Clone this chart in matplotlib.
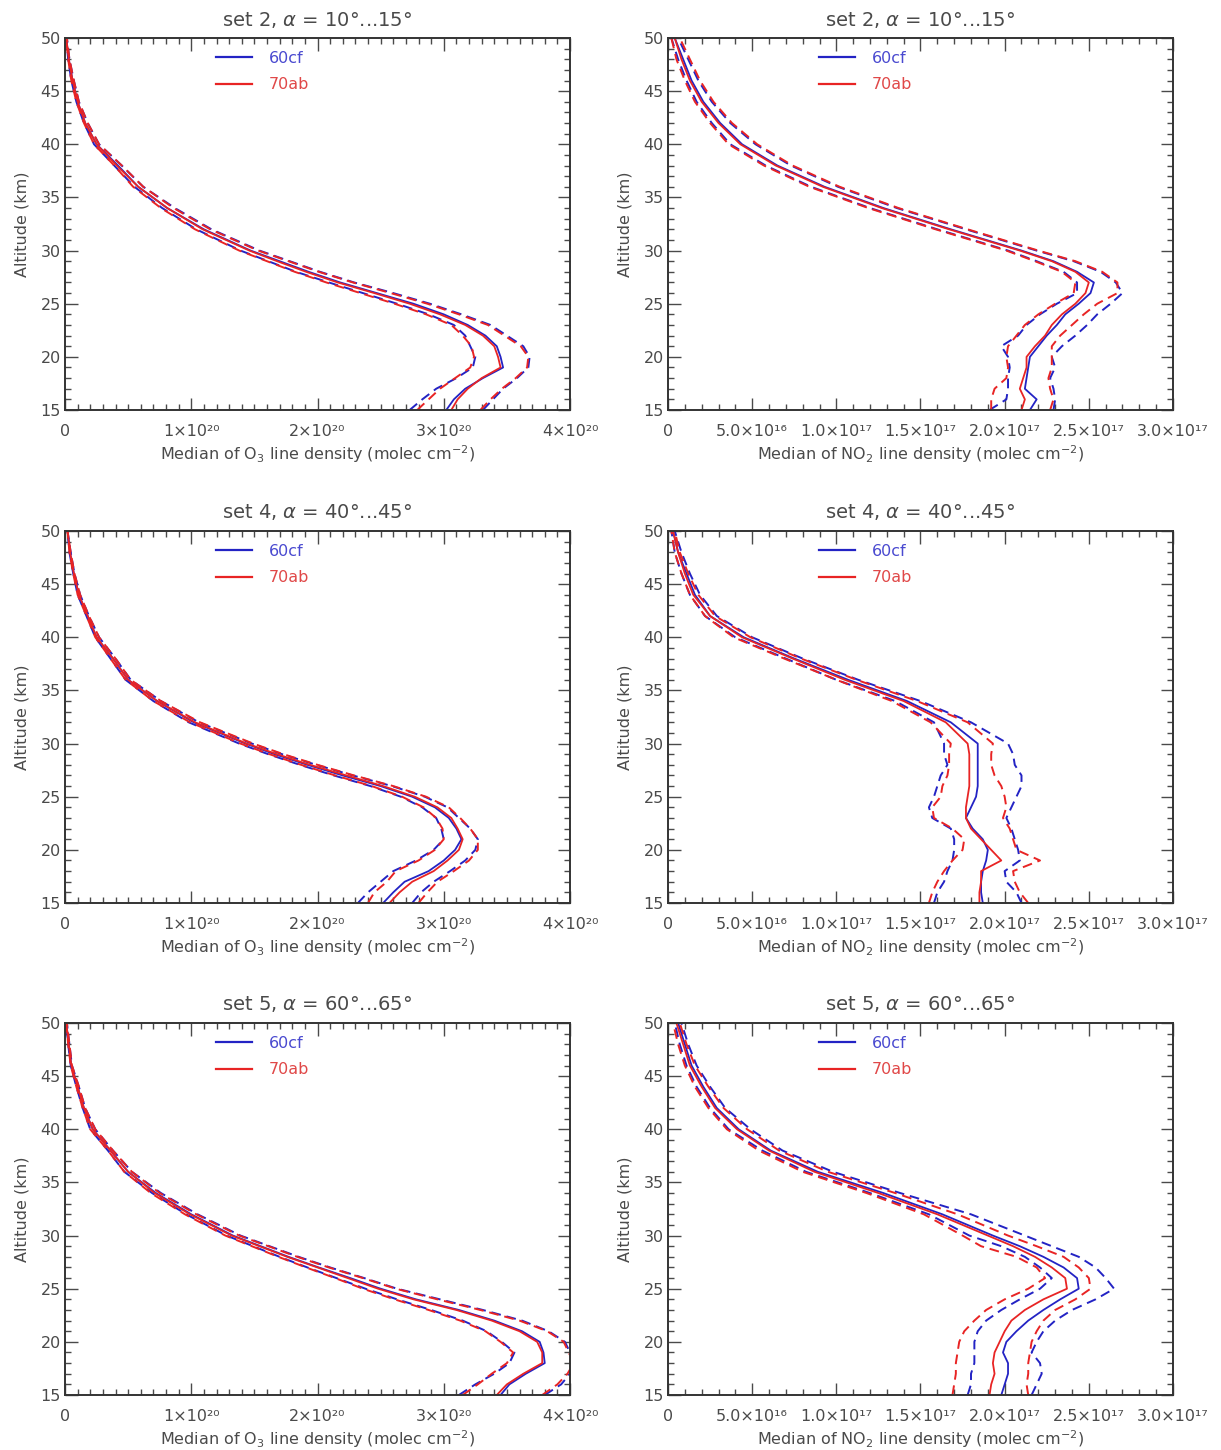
"""Median O3 and NO2 line-density profiles for three solar-angle sets,
comparing the 60cf and 70ab retrievals (solid = median, dashed = spread).
"""

import matplotlib
matplotlib.use("Agg")
import matplotlib.pyplot as plt
from matplotlib.lines import Line2D
from matplotlib.ticker import MultipleLocator

# altitude grid (km)
ALT = [15, 16, 17, 18, 19, 20, 21, 22, 23, 24, 25, 26, 27, 28, 29, 30,
       32, 34, 36, 38, 40, 42, 44, 46, 48, 50]

O3_UNIT = 1e20
NO2_UNIT = 1e17

# ---- O3, set 2 (units of 1e20) ----
O3_S2_BLUE_MED = [3.02, 3.08, 3.17, 3.31, 3.47, 3.45, 3.42, 3.33, 3.19, 3.00, 2.76, 2.47, 2.18, 1.93, 1.70, 1.47,
                  1.10, 0.81, 0.58, 0.42, 0.25, 0.16, 0.10, 0.06, 0.03, 0.01]
O3_S2_BLUE_LO = [2.73, 2.83, 2.94, 3.10, 3.23, 3.25, 3.21, 3.17, 3.08, 2.88, 2.63, 2.36, 2.09, 1.83, 1.61, 1.39,
                 1.04, 0.77, 0.55, 0.39, 0.23, 0.15, 0.09, 0.05, 0.025, 0.01]
O3_S2_BLUE_HI = [3.31, 3.39, 3.47, 3.58, 3.67, 3.68, 3.63, 3.50, 3.37, 3.14, 2.89, 2.60, 2.29, 2.02, 1.78, 1.54,
                 1.16, 0.87, 0.62, 0.45, 0.27, 0.18, 0.11, 0.07, 0.035, 0.015]
O3_S2_RED_MED = [3.06, 3.11, 3.19, 3.30, 3.45, 3.43, 3.40, 3.31, 3.17, 2.97, 2.73, 2.45, 2.16, 1.91, 1.68, 1.46,
                 1.09, 0.81, 0.58, 0.41, 0.25, 0.16, 0.10, 0.06, 0.03, 0.01]
O3_S2_RED_LO = [2.79, 2.88, 2.97, 3.09, 3.21, 3.24, 3.22, 3.15, 3.06, 2.86, 2.61, 2.34, 2.07, 1.82, 1.60, 1.38,
                1.03, 0.76, 0.54, 0.39, 0.23, 0.15, 0.09, 0.05, 0.025, 0.01]
O3_S2_RED_HI = [3.29, 3.37, 3.46, 3.57, 3.66, 3.67, 3.61, 3.48, 3.35, 3.12, 2.87, 2.58, 2.28, 2.01, 1.77, 1.53,
                1.15, 0.86, 0.62, 0.45, 0.27, 0.18, 0.11, 0.07, 0.035, 0.015]

# ---- NO2, set 2 (units of 1e17) ----
NO2_S2_BLUE_MED = [2.15, 2.19, 2.12, 2.13, 2.14, 2.15, 2.20, 2.25, 2.31, 2.36, 2.44, 2.51, 2.53, 2.43, 2.29, 2.10,
                   1.68, 1.28, 0.93, 0.65, 0.44, 0.31, 0.21, 0.14, 0.09, 0.04]
NO2_S2_BLUE_LO = [1.91, 2.01, 2.02, 2.02, 2.03, 2.02, 1.98, 2.08, 2.13, 2.21, 2.31, 2.43, 2.43, 2.35, 2.19, 2.02,
                  1.60, 1.20, 0.85, 0.58, 0.37, 0.26, 0.17, 0.11, 0.06, 0.02]
NO2_S2_BLUE_HI = [2.29, 2.30, 2.29, 2.27, 2.30, 2.28, 2.34, 2.42, 2.49, 2.55, 2.63, 2.70, 2.66, 2.57, 2.41, 2.19,
                  1.77, 1.36, 1.01, 0.73, 0.52, 0.37, 0.26, 0.18, 0.12, 0.06]
NO2_S2_RED_MED = [2.10, 2.12, 2.09, 2.11, 2.13, 2.13, 2.18, 2.24, 2.28, 2.34, 2.42, 2.48, 2.50, 2.42, 2.28, 2.09,
                  1.67, 1.27, 0.92, 0.64, 0.43, 0.30, 0.20, 0.13, 0.08, 0.04]
NO2_S2_RED_LO = [1.92, 1.92, 1.94, 2.01, 2.02, 2.01, 2.02, 2.07, 2.12, 2.20, 2.30, 2.41, 2.42, 2.34, 2.18, 2.01,
                 1.59, 1.19, 0.84, 0.57, 0.36, 0.25, 0.16, 0.10, 0.05, 0.02]
NO2_S2_RED_HI = [2.27, 2.29, 2.27, 2.26, 2.28, 2.28, 2.28, 2.33, 2.40, 2.47, 2.55, 2.67, 2.67, 2.58, 2.42, 2.20,
                 1.78, 1.37, 1.02, 0.74, 0.53, 0.38, 0.27, 0.19, 0.13, 0.07]

# ---- O3, set 4 ----
O3_S4_BLUE_MED = [2.52, 2.60, 2.69, 2.88, 3.00, 3.09, 3.14, 3.10, 3.04, 2.93, 2.75, 2.50, 2.20, 1.92, 1.66, 1.43,
                  1.02, 0.73, 0.50, 0.38, 0.25, 0.18, 0.11, 0.07, 0.04, 0.02]
O3_S4_BLUE_LO = [2.32, 2.40, 2.50, 2.60, 2.78, 2.92, 3.00, 2.98, 2.94, 2.83, 2.66, 2.42, 2.13, 1.86, 1.61, 1.38,
                 0.98, 0.70, 0.48, 0.36, 0.24, 0.17, 0.10, 0.065, 0.035, 0.02]
O3_S4_BLUE_HI = [2.75, 2.82, 2.92, 3.05, 3.17, 3.25, 3.27, 3.21, 3.12, 3.03, 2.85, 2.59, 2.28, 1.99, 1.72, 1.48,
                 1.06, 0.76, 0.52, 0.40, 0.27, 0.19, 0.12, 0.075, 0.045, 0.02]
O3_S4_RED_MED = [2.57, 2.65, 2.75, 2.92, 3.03, 3.12, 3.15, 3.11, 3.06, 2.95, 2.77, 2.52, 2.23, 1.94, 1.68, 1.44,
                 1.03, 0.73, 0.50, 0.38, 0.25, 0.18, 0.11, 0.07, 0.04, 0.02]
O3_S4_RED_LO = [2.40, 2.45, 2.55, 2.62, 2.80, 2.93, 3.00, 2.99, 2.94, 2.84, 2.67, 2.43, 2.14, 1.87, 1.62, 1.39,
                0.99, 0.70, 0.48, 0.36, 0.24, 0.17, 0.10, 0.065, 0.035, 0.02]
O3_S4_RED_HI = [2.80, 2.87, 2.95, 3.08, 3.20, 3.27, 3.27, 3.21, 3.13, 3.04, 2.86, 2.60, 2.29, 2.00, 1.73, 1.49,
                1.07, 0.76, 0.52, 0.40, 0.27, 0.19, 0.12, 0.075, 0.045, 0.02]

# ---- NO2, set 4 ----
NO2_S4_BLUE_MED = [1.87, 1.86, 1.86, 1.87, 1.89, 1.90, 1.87, 1.81, 1.77, 1.80, 1.83, 1.84, 1.84, 1.84, 1.84, 1.84,
                   1.68, 1.42, 1.07, 0.75, 0.45, 0.25, 0.16, 0.11, 0.06, 0.03]
NO2_S4_BLUE_LO = [1.58, 1.60, 1.64, 1.66, 1.69, 1.70, 1.70, 1.68, 1.57, 1.55, 1.58, 1.60, 1.62, 1.66, 1.64, 1.64,
                  1.58, 1.35, 1.00, 0.70, 0.40, 0.22, 0.13, 0.08, 0.04, 0.02]
NO2_S4_BLUE_HI = [2.10, 2.07, 2.01, 2.00, 2.09, 2.08, 2.06, 2.04, 2.01, 2.04, 2.07, 2.10, 2.10, 2.06, 2.05, 2.02,
                  1.80, 1.50, 1.13, 0.80, 0.50, 0.29, 0.19, 0.13, 0.08, 0.04]
NO2_S4_RED_MED = [1.85, 1.85, 1.86, 1.86, 1.98, 1.92, 1.86, 1.80, 1.77, 1.77, 1.78, 1.79, 1.79, 1.79, 1.79, 1.78,
                  1.65, 1.40, 1.05, 0.74, 0.44, 0.25, 0.15, 0.10, 0.06, 0.03]
NO2_S4_RED_LO = [1.55, 1.57, 1.60, 1.64, 1.69, 1.75, 1.76, 1.69, 1.58, 1.57, 1.62, 1.63, 1.66, 1.67, 1.67, 1.68,
                 1.56, 1.33, 1.00, 0.69, 0.39, 0.22, 0.13, 0.08, 0.04, 0.02]
NO2_S4_RED_HI = [2.14, 2.09, 2.06, 2.05, 2.21, 2.07, 2.05, 2.03, 1.99, 2.01, 2.00, 1.98, 1.94, 1.92, 1.92, 1.93,
                 1.78, 1.48, 1.12, 0.79, 0.49, 0.28, 0.18, 0.12, 0.07, 0.04]

# ---- O3, set 5 ----
O3_S5_BLUE_MED = [3.45, 3.52, 3.65, 3.80, 3.79, 3.76, 3.62, 3.40, 3.12, 2.78, 2.50, 2.26, 2.01, 1.77, 1.55, 1.33,
                  1.00, 0.72, 0.50, 0.36, 0.22, 0.15, 0.10, 0.05, 0.03, 0.01]
O3_S5_BLUE_LO = [3.12, 3.25, 3.40, 3.52, 3.56, 3.46, 3.34, 3.15, 2.90, 2.63, 2.38, 2.15, 1.92, 1.70, 1.49, 1.28,
                 0.96, 0.69, 0.47, 0.34, 0.20, 0.14, 0.09, 0.045, 0.025, 0.01]
O3_S5_BLUE_HI = [3.80, 3.93, 4.00, 4.05, 4.00, 3.96, 3.83, 3.62, 3.31, 2.97, 2.63, 2.37, 2.10, 1.85, 1.62, 1.39,
                 1.05, 0.76, 0.53, 0.38, 0.24, 0.16, 0.11, 0.055, 0.035, 0.015]
O3_S5_RED_MED = [3.42, 3.50, 3.63, 3.78, 3.78, 3.74, 3.60, 3.38, 3.10, 2.76, 2.48, 2.24, 2.00, 1.76, 1.54, 1.32,
                 0.99, 0.71, 0.50, 0.36, 0.22, 0.15, 0.10, 0.05, 0.03, 0.01]
O3_S5_RED_LO = [3.15, 3.27, 3.38, 3.50, 3.55, 3.45, 3.33, 3.13, 2.88, 2.61, 2.36, 2.14, 1.91, 1.69, 1.48, 1.27,
                0.95, 0.68, 0.47, 0.34, 0.20, 0.14, 0.09, 0.045, 0.025, 0.01]
O3_S5_RED_HI = [3.78, 3.90, 3.98, 4.03, 3.99, 3.95, 3.82, 3.60, 3.29, 2.95, 2.62, 2.36, 2.09, 1.84, 1.61, 1.38,
                1.04, 0.75, 0.53, 0.38, 0.24, 0.16, 0.11, 0.055, 0.035, 0.015]

# ---- NO2, set 5 ----
NO2_S5_BLUE_MED = [1.98, 2.00, 2.02, 2.02, 1.99, 2.01, 2.07, 2.14, 2.23, 2.33, 2.44, 2.43, 2.35, 2.23, 2.09, 1.93,
                   1.63, 1.28, 0.89, 0.61, 0.42, 0.29, 0.21, 0.14, 0.10, 0.06]
NO2_S5_BLUE_LO = [1.78, 1.80, 1.80, 1.82, 1.82, 1.82, 1.84, 1.89, 1.98, 2.09, 2.21, 2.28, 2.21, 2.12, 1.98, 1.79,
                  1.55, 1.20, 0.82, 0.56, 0.36, 0.25, 0.17, 0.11, 0.07, 0.04]
NO2_S5_BLUE_HI = [2.16, 2.19, 2.22, 2.21, 2.16, 2.19, 2.23, 2.30, 2.40, 2.54, 2.65, 2.60, 2.54, 2.44, 2.28, 2.12,
                  1.80, 1.38, 0.98, 0.68, 0.49, 0.34, 0.25, 0.17, 0.12, 0.08]
NO2_S5_RED_MED = [1.91, 1.92, 1.94, 1.93, 1.94, 1.97, 2.00, 2.04, 2.12, 2.23, 2.37, 2.36, 2.28, 2.18, 2.05, 1.90,
                  1.60, 1.25, 0.87, 0.60, 0.41, 0.28, 0.20, 0.13, 0.09, 0.05]
NO2_S5_RED_LO = [1.69, 1.70, 1.71, 1.71, 1.72, 1.73, 1.76, 1.82, 1.89, 2.00, 2.14, 2.24, 2.19, 2.07, 1.86, 1.75,
                 1.52, 1.18, 0.80, 0.54, 0.35, 0.24, 0.16, 0.10, 0.06, 0.03]
NO2_S5_RED_HI = [2.14, 2.13, 2.14, 2.14, 2.15, 2.16, 2.19, 2.23, 2.30, 2.42, 2.51, 2.50, 2.44, 2.35, 2.19, 2.02,
                 1.72, 1.35, 0.95, 0.66, 0.47, 0.33, 0.24, 0.16, 0.11, 0.07]

TITLES = ["set 2, $\\alpha$ = 10°...15°",
          "set 4, $\\alpha$ = 40°...45°",
          "set 5, $\\alpha$ = 60°...65°"]

O3_XTICKS = [0, 1, 2, 3, 4]
O3_XTICKLABELS = ["0", "1×10²⁰", "2×10²⁰", "3×10²⁰", "4×10²⁰"]
NO2_XTICKS = [0, 0.5, 1.0, 1.5, 2.0, 2.5, 3.0]
NO2_XTICKLABELS = ["0", "5.0×10¹⁶", "1.0×10¹⁷", "1.5×10¹⁷", "2.0×10¹⁷", "2.5×10¹⁷", "3.0×10¹⁷"]
O3_XLABEL = "Median of O$_3$ line density (molec cm$^{-2}$)"
NO2_XLABEL = "Median of NO$_2$ line density (molec cm$^{-2}$)"

SERIES_NAMES = ["60cf", "70ab"]
BLUE = "#2323c4"
RED = "#e82424"
BLUE_TXT = "#4a4ad0"
RED_TXT = "#e04848"
GREY = "#4a4a4a"
DASH = (0, (5, 3))

W, H = 1221, 1450
COL_X = [65, 668]
ROW_Y = [38, 531, 1023]
AX_W, AX_H = 505, 372


def draw_panel(ax, title, blue, red, unit, xmax, xticks, xlabels, xlabel, minor):
    for (med, lo, hi), color in ((blue, BLUE), (red, RED)):
        ax.plot([v * unit for v in lo], ALT, color=color, lw=1.4, ls=DASH)
        ax.plot([v * unit for v in hi], ALT, color=color, lw=1.4, ls=DASH)
        ax.plot([v * unit for v in med], ALT, color=color, lw=1.3)

    ax.set_xlim(0, xmax * unit)
    ax.set_ylim(15, 50)
    ax.set_xticks([t * unit for t in xticks])
    ax.set_xticklabels(xlabels)
    ax.xaxis.set_minor_locator(MultipleLocator(minor * unit))
    ax.yaxis.set_major_locator(MultipleLocator(5))
    ax.yaxis.set_minor_locator(MultipleLocator(1))
    ax.tick_params(which="both", direction="in", top=True, right=True,
                   colors=GREY, labelcolor=GREY, labelsize=11.5, width=1.0)
    ax.tick_params(which="major", length=9)
    ax.tick_params(which="minor", length=4.5)
    ax.tick_params(axis="y", pad=3)
    ax.tick_params(axis="x", pad=10)
    for s in ax.spines.values():
        s.set_color("#333333")
        s.set_linewidth(1.4)

    ax.set_title(title, fontsize=14, color=GREY, pad=9)
    ax.set_xlabel(xlabel, fontsize=11.5, color=GREY, labelpad=3)
    ax.set_ylabel("Altitude (km)", fontsize=11.5, color=GREY, labelpad=8)

    handles = [Line2D([], [], color=BLUE, lw=1.6), Line2D([], [], color=RED, lw=1.6)]
    leg = ax.legend(handles, SERIES_NAMES, loc="upper left", bbox_to_anchor=(0.27, 1.005),
                    frameon=False, fontsize=11.5, handlelength=2.3, handletextpad=1.0,
                    labelspacing=0.75)
    for txt, c in zip(leg.get_texts(), (BLUE_TXT, RED_TXT)):
        txt.set_color(c)


panels = [
    (TITLES[0], (O3_S2_BLUE_MED, O3_S2_BLUE_LO, O3_S2_BLUE_HI), (O3_S2_RED_MED, O3_S2_RED_LO, O3_S2_RED_HI), "O3"),
    (TITLES[0], (NO2_S2_BLUE_MED, NO2_S2_BLUE_LO, NO2_S2_BLUE_HI), (NO2_S2_RED_MED, NO2_S2_RED_LO, NO2_S2_RED_HI), "NO2"),
    (TITLES[1], (O3_S4_BLUE_MED, O3_S4_BLUE_LO, O3_S4_BLUE_HI), (O3_S4_RED_MED, O3_S4_RED_LO, O3_S4_RED_HI), "O3"),
    (TITLES[1], (NO2_S4_BLUE_MED, NO2_S4_BLUE_LO, NO2_S4_BLUE_HI), (NO2_S4_RED_MED, NO2_S4_RED_LO, NO2_S4_RED_HI), "NO2"),
    (TITLES[2], (O3_S5_BLUE_MED, O3_S5_BLUE_LO, O3_S5_BLUE_HI), (O3_S5_RED_MED, O3_S5_RED_LO, O3_S5_RED_HI), "O3"),
    (TITLES[2], (NO2_S5_BLUE_MED, NO2_S5_BLUE_LO, NO2_S5_BLUE_HI), (NO2_S5_RED_MED, NO2_S5_RED_LO, NO2_S5_RED_HI), "NO2"),
]

fig = plt.figure(figsize=(W / 100, H / 100), dpi=100)
for i, (title, blue, red, species) in enumerate(panels):
    row, col = divmod(i, 2)
    x0, y0 = COL_X[col], ROW_Y[row]
    ax = fig.add_axes([x0 / W, 1 - (y0 + AX_H) / H, AX_W / W, AX_H / H])
    if species == "O3":
        draw_panel(ax, title, blue, red, O3_UNIT, 4, O3_XTICKS, O3_XTICKLABELS, O3_XLABEL, 0.1)
    else:
        draw_panel(ax, title, blue, red, NO2_UNIT, 3, NO2_XTICKS, NO2_XTICKLABELS, NO2_XLABEL, 0.1)

fig.savefig("out.png", dpi=100)
